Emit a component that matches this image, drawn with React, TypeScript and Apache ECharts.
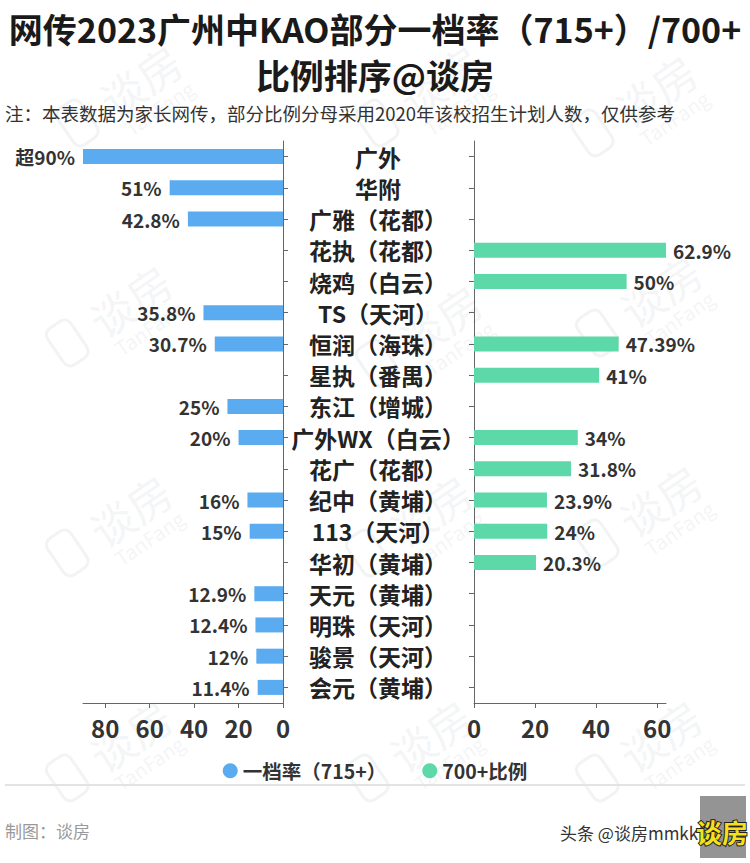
import React, { useEffect, useRef } from "react";
import * as echarts from "echarts";

const categories = [
  "广外", "华附", "广雅（花都）", "花执（花都）", "烧鸡（白云）", "TS（天河）",
  "恒润（海珠）", "星执（番禺）", "东江（增城）", "广外WX（白云）", "花广（花都）",
  "纪中（黄埔）", "113（天河）", "华初（黄埔）", "天元（黄埔）", "明珠（天河）",
  "骏景（天河）", "会元（黄埔）",
];

// 一档率（715+）
const rate715: (number | string)[] = [
  90, 51, 42.8, "-", "-", 35.8, 30.7, "-", 25, 20, "-", 16, 15, "-", 12.9, 12.4, 12, 11.4,
];
const rate715Prefix: string[] = ["超", "", "", "", "", "", "", "", "", "", "", "", "", "", "", "", "", ""];

// 700+比例
const rate700: (number | string)[] = [
  "-", "-", "-", 62.9, 50, "-", 47.39, 41, "-", 34, 31.8, 23.9, 24, 20.3, "-", "-", "-", "-",
];

const leftTicks = [0, 20, 40, 60, 80];
const rightTicks = [0, 20, 40, 60];

const seriesNames = ["一档率（715+）", "700+比例"];
const colors = ["#5aabf0", "#5dd8a8"];

const FONT = '"Noto Sans CJK SC", "Noto Sans", sans-serif';

function watermark(x: number, y: number) {
  return {
    type: "group",
    x,
    y,
    rotation: 0.6,
    z: -10,
    children: [
      {
        type: "text",
        x: 0,
        y: 0,
        style: {
          text: "谈房",
          fontSize: 44,
          fontFamily: FONT,
          fill: "rgba(170,175,190,0.15)",
          textAlign: "center",
          textVerticalAlign: "middle",
        },
      },
      {
        type: "text",
        x: 0,
        y: 34,
        style: {
          text: "TanFang",
          fontSize: 20,
          fontFamily: FONT,
          fill: "rgba(170,175,190,0.15)",
          textAlign: "center",
          textVerticalAlign: "middle",
        },
      },
      {
        type: "rect",
        shape: { x: -90, y: -22, width: 28, height: 44, r: 8 },
        style: { fill: "none", stroke: "rgba(170,175,190,0.15)", lineWidth: 3 },
      },
    ],
  };
}

export default function App() {
  const ref = useRef<HTMLDivElement>(null);

  useEffect(() => {
    if (!ref.current) return;
    const chart = echarts.init(ref.current, undefined, { renderer: "svg" });
    const axisLineStyle = { color: "#666", width: 1 };
    const option: any = {
      animation: false,
      backgroundColor: "#fff",
      textStyle: { fontFamily: FONT },
      title: [
        {
          text: "网传2023广州中KAO部分一档率（715+）/700+\n比例排序@谈房",
          left: "center",
          top: 0,
          textStyle: {
            fontSize: 34,
            fontWeight: "bold",
            color: "#1a1a1a",
            lineHeight: 46,
            fontFamily: FONT,
          },
        },
        {
          text: "注：本表数据为家长网传，部分比例分母采用2020年该校招生计划人数，仅供参考",
          left: 0,
          top: 97,
          textStyle: {
            fontSize: 18.5,
            fontWeight: "normal",
            color: "#333",
            lineHeight: 22,
            fontFamily: FONT,
          },
        },
      ],
      legend: {
        data: seriesNames,
        top: 756,
        left: "center",
        icon: "circle",
        itemWidth: 15,
        itemHeight: 15,
        itemGap: 36,
        textStyle: { fontSize: 19.5, fontWeight: "bold", color: "#333", fontFamily: FONT },
      },
      grid: [
        { left: 83, width: 200, top: 141, height: 562 },
        { left: 474, width: 192, top: 141, height: 562 },
      ],
      xAxis: [
        {
          gridIndex: 0,
          type: "value",
          min: 0,
          max: 90,
          interval: 20,
          inverse: true,
          splitLine: { show: false },
          axisLine: { show: true, lineStyle: axisLineStyle },
          axisTick: { show: true, length: 5, customValues: leftTicks, lineStyle: axisLineStyle },
          axisLabel: {
            customValues: leftTicks,
            fontSize: 24,
            fontWeight: "bold",
            color: "#333",
            margin: 12,
            fontFamily: FONT,
          },
        },
        {
          gridIndex: 1,
          type: "value",
          min: 0,
          max: "dataMax",
          interval: 20,
          splitLine: { show: false },
          axisLine: { show: true, lineStyle: axisLineStyle },
          axisTick: { show: true, length: 5, customValues: rightTicks, lineStyle: axisLineStyle },
          axisLabel: {
            customValues: rightTicks,
            fontSize: 24,
            fontWeight: "bold",
            color: "#333",
            margin: 12,
            fontFamily: FONT,
          },
        },
      ],
      yAxis: [
        {
          gridIndex: 0,
          type: "category",
          data: categories,
          inverse: true,
          position: "right",
          axisLine: { show: true, lineStyle: axisLineStyle },
          axisTick: { show: true, alignWithLabel: true, length: 5, lineStyle: axisLineStyle },
          axisLabel: {
            show: true,
            align: "center",
            margin: 95,
            fontSize: 23,
            fontWeight: "bold",
            color: "#222",
            fontFamily: FONT,
          },
        },
        {
          gridIndex: 1,
          type: "category",
          data: categories,
          inverse: true,
          position: "left",
          axisLine: { show: true, lineStyle: axisLineStyle },
          axisTick: { show: true, alignWithLabel: true, length: 5, lineStyle: axisLineStyle },
          axisLabel: { show: false },
        },
      ],
      series: [
        {
          name: seriesNames[0],
          type: "bar",
          xAxisIndex: 0,
          yAxisIndex: 0,
          data: rate715,
          barWidth: 15,
          itemStyle: { color: colors[0] },
          label: {
            show: true,
            position: "left",
            distance: 8,
            fontSize: 19,
            fontWeight: "bold",
            color: "#333",
            fontFamily: FONT,
            formatter: (p: any) => `${rate715Prefix[p.dataIndex]}${p.value}%`,
          },
        },
        {
          name: seriesNames[1],
          type: "bar",
          xAxisIndex: 1,
          yAxisIndex: 1,
          data: rate700,
          barWidth: 15,
          itemStyle: { color: colors[1] },
          label: {
            show: true,
            position: "right",
            distance: 7,
            fontSize: 19,
            fontWeight: "bold",
            color: "#333",
            fontFamily: FONT,
            formatter: (p: any) => `${p.value}%`,
          },
        },
      ],
      graphic: [
        watermark(140, 80),
        watermark(440, 80),
        watermark(655, 90),
        watermark(130, 300),
        watermark(440, 320),
        watermark(660, 290),
        watermark(130, 510),
        watermark(430, 510),
        watermark(660, 500),
        watermark(130, 735),
        watermark(430, 735),
        watermark(660, 735),
        {
          type: "line",
          shape: { x1: 5, y1: 785, x2: 745, y2: 785 },
          style: { stroke: "#e3e3e3", lineWidth: 2 },
        },
        {
          type: "text",
          x: 5,
          y: 830,
          style: {
            text: "制图：谈房",
            fontSize: 17,
            fontFamily: FONT,
            fill: "#999",
            textVerticalAlign: "middle",
          },
        },
        {
          type: "text",
          x: 560,
          y: 832,
          style: {
            text: "头条 @谈房mmkk",
            fontSize: 17,
            fontFamily: FONT,
            fill: "#333",
            textVerticalAlign: "middle",
          },
        },
        {
          type: "rect",
          shape: { x: 700, y: 796, width: 46, height: 62 },
          style: { fill: "rgba(60,60,60,0.55)" },
        },
        {
          type: "text",
          x: 722,
          y: 831,
          style: {
            text: "谈房",
            fontSize: 26,
            fontWeight: "bold",
            fontFamily: FONT,
            fill: "#f5e11a",
            stroke: "#222",
            lineWidth: 2,
            textAlign: "center",
            textVerticalAlign: "middle",
          },
        },
      ],
    };
    chart.setOption(option);
    return () => chart.dispose();
  }, []);

  return (
    <div
      ref={ref}
      style={{ position: "fixed", left: 0, top: 0, width: 750, height: 863, background: "#fff" }}
    />
  );
}
